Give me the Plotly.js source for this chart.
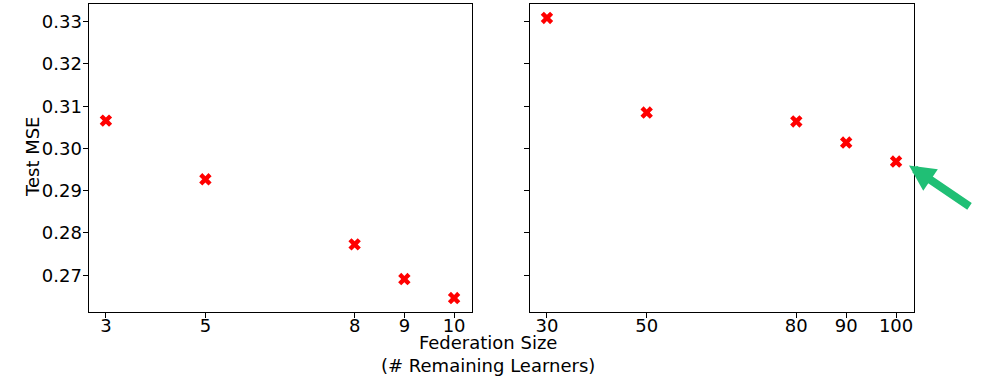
<!DOCTYPE html>
<html>
<head>
<meta charset="utf-8">
<script src="https://cdn.plot.ly/plotly-3.0.1.min.js"></script>
<style>html,body{margin:0;padding:0;background:#fff;}#chart{width:984px;height:376px;}</style>
</head>
<body>
<div id="chart"></div>
<script>
const smallSizes = [3, 5, 8, 9, 10];
const smallMSE = [0.3066, 0.2927, 0.2773, 0.2691, 0.2646];
const largeSizes = [30, 50, 80, 90, 100];
const largeMSE = [0.3309, 0.3085, 0.3064, 0.3014, 0.2969];
const yTicks = [0.27, 0.28, 0.29, 0.30, 0.31, 0.32, 0.33];
const xTitle = "Federation Size<br>(# Remaining Learners)";
const yTitle = "Test MSE";

const font = {family: "DejaVu Sans", size: 18, color: "#000"};
const marker = {symbol: "x", size: 11, color: "#ff0000", line: {width: 0}};

const traces = [
  {x: smallSizes, y: smallMSE, type: "scatter", mode: "markers", marker: marker, xaxis: "x", yaxis: "y"},
  {x: largeSizes, y: largeMSE, type: "scatter", mode: "markers", marker: marker, xaxis: "x2", yaxis: "y2"}
];

const axCommon = {showline: true, mirror: true, linecolor: "#000", linewidth: 1, ticks: "outside", ticklen: 5, tickwidth: 1, tickcolor: "#000", showgrid: false, zeroline: false, tickfont: font};
const yDomain = [64/376, 372/376];
const yRange = [0.2613, 0.3342];

const layout = {
  width: 984, height: 376,
  margin: {l: 0, r: 0, t: 0, b: 0},
  paper_bgcolor: "#fff", plot_bgcolor: "#fff",
  showlegend: false,
  font: font,
  xaxis: Object.assign({}, axCommon, {domain: [88.5/984, 471.5/984], range: [2.65, 10.35], tickvals: smallSizes, ticktext: smallSizes.map(String), anchor: "y", ticklabelstandoff: -8}),
  xaxis2: Object.assign({}, axCommon, {domain: [529.5/984, 913.5/984], range: [26.5, 103.5], tickvals: largeSizes, ticktext: largeSizes.map(String), anchor: "y2", ticklabelstandoff: -8}),
  yaxis: Object.assign({}, axCommon, {domain: yDomain, range: yRange, tickvals: yTicks, tickformat: ".2f", anchor: "x", ticklabelstandoff: -3}),
  yaxis2: Object.assign({}, axCommon, {domain: yDomain, range: yRange, tickvals: yTicks, showticklabels: false, anchor: "x2"}),
  annotations: [
    {xref: "paper", yref: "paper", x: 33/984, y: (376-157)/376, text: yTitle, textangle: -90, showarrow: false, font: font, xanchor: "center", yanchor: "middle"},
    {xref: "paper", yref: "paper", x: 488/984, y: (376-354)/376, text: xTitle, showarrow: false, font: font, xanchor: "center", yanchor: "middle", align: "center"},
    {xref: "x2", yref: "y2", x: 102.6, y: 0.296, text: "", showarrow: true, ax: 62, ay: 42, arrowcolor: "#20bf75", arrowwidth: 8, arrowhead: 2, arrowsize: 0.65, standoff: 0}
  ]
};

Plotly.newPlot("chart", traces, layout, {staticPlot: true, displayModeBar: false});
</script>
</body>
</html>
